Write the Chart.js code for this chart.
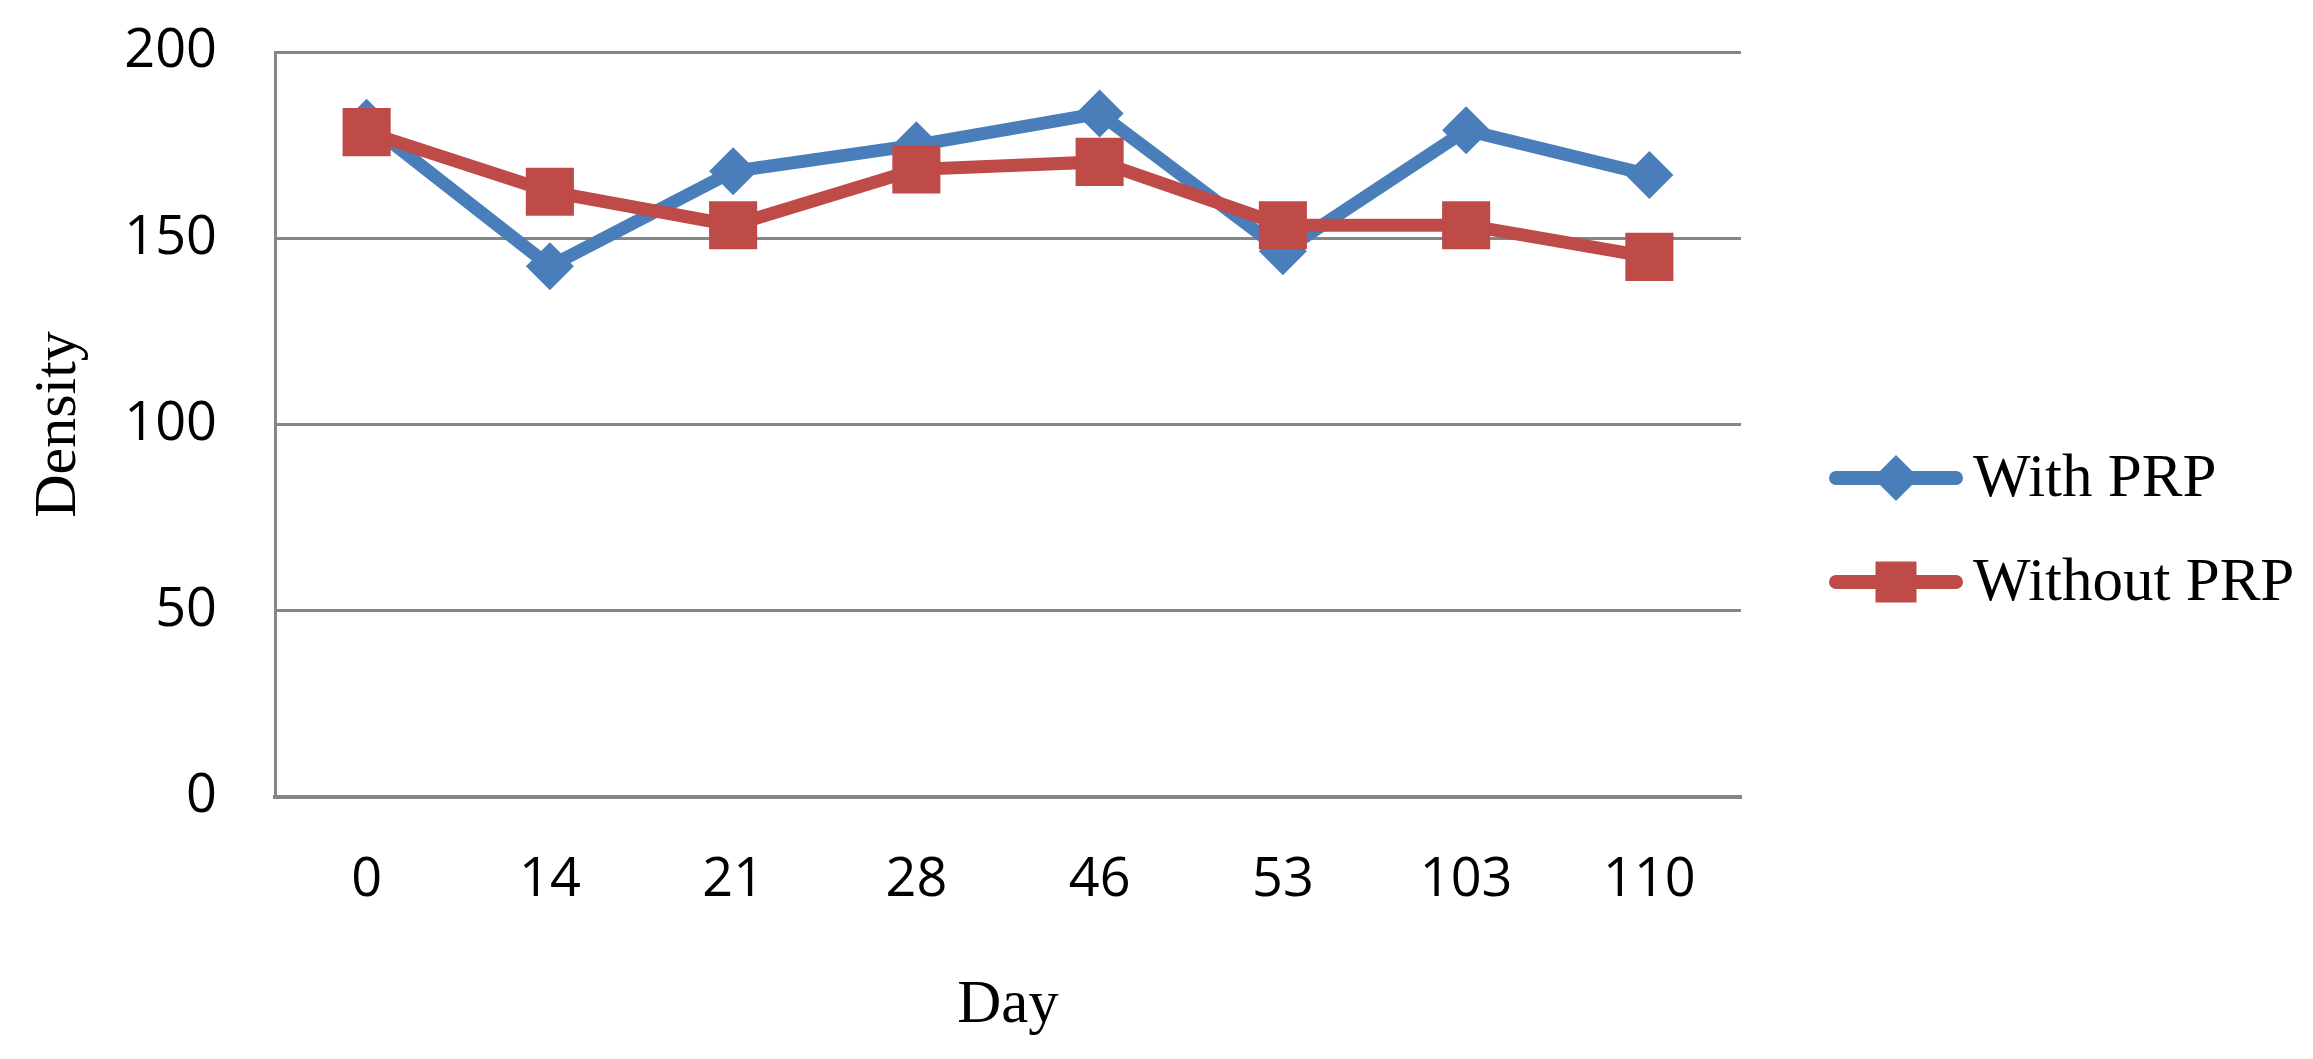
<!DOCTYPE html>
<html>
<head>
<meta charset="utf-8">
<script src="https://cdn.jsdelivr.net/npm/chart.js@4/dist/chart.umd.min.js"></script>
<style>
  html, body { margin: 0; padding: 0; background: #fff; }
  #wrap { width: 2313px; height: 1059px; }
</style>
</head>
<body>
<div id="wrap"><canvas id="chart1" width="2313" height="1059"></canvas></div>
<script>
// data
var days = ['0', '14', '21', '28', '46', '53', '103', '110'];
var withPRP = [181, 142.5, 168, 175, 183.5, 146.5, 179, 167];
var withoutPRP = [178.5, 162.5, 153.5, 168.5, 170.5, 153.5, 153.5, 145];
var yTicks = [0, 50, 100, 150, 200];

var blue = '#4A7EBB';
var red = '#BE4B48';
var gridGray = '#868686';
var tickFont = { family: '"Open Sans", sans-serif', size: 54 };
var titleFont = '"Liberation Serif", "Times New Roman", serif';

// legend: line with marker, then label, stacked on the right
var sideLegend = {
    id: 'sideLegend',
    afterDraw: function (chart) {
        var ctx = chart.ctx;
        var rows = [478, 582];
        chart.data.datasets.forEach(function (ds, i) {
            var y = rows[i];
            ctx.save();
            ctx.strokeStyle = ds.borderColor;
            ctx.fillStyle = ds.backgroundColor;
            ctx.lineWidth = 14;
            ctx.lineCap = 'round';
            ctx.beginPath();
            ctx.moveTo(1836, y);
            ctx.lineTo(1956, y);
            ctx.stroke();
            Chart.helpers.drawPoint(ctx, {
                pointStyle: ds.pointStyle,
                radius: ds.pointStyle === 'rect' ? 29 : 23,
                borderWidth: 0
            }, 1896, y);
            ctx.fillStyle = '#000';
            ctx.font = '61px ' + titleFont;
            ctx.textBaseline = 'middle';
            ctx.textAlign = 'left';
            ctx.fillText(ds.label, 1973, y + 2);
            ctx.restore();
        });
    }
};

var ctx1 = document.getElementById('chart1').getContext('2d');

var chart1 = new Chart(ctx1, {
    type: 'line',
    data: {
        labels: days,
        datasets: [{
            label: 'With PRP',
            data: withPRP,
            borderColor: blue,
            backgroundColor: blue,
            borderWidth: 13,
            pointStyle: 'rectRot',
            pointRadius: 24,
            pointHoverRadius: 24,
            pointBorderWidth: 0,
            tension: 0,
            order: 2
        }, {
            label: 'Without PRP',
            data: withoutPRP,
            borderColor: red,
            backgroundColor: red,
            borderWidth: 13,
            pointStyle: 'rect',
            pointRadius: 34,
            pointHoverRadius: 34,
            pointBorderWidth: 0,
            tension: 0,
            order: 1
        }]
    },
    options: {
        responsive: false,
        animation: false,
        layout: {
            padding: { top: 52, right: 572, bottom: 0, left: 0 }
        },
        plugins: {
            legend: { display: false },
            tooltip: { enabled: false }
        },
        scales: {
            x: {
                offset: true,
                afterFit: function (scale) {
                    scale.height = 262;
                    scale.paddingLeft = 0;
                    scale.paddingRight = 0;
                },
                grid: { display: false, drawTicks: false },
                border: { display: true, color: gridGray, width: 4 },
                ticks: { padding: 51, color: '#000', font: tickFont },
                title: {
                    display: true,
                    text: 'Day',
                    color: '#000',
                    font: { family: titleFont, size: 61 },
                    padding: { top: 60, bottom: 16 }
                }
            },
            y: {
                min: yTicks[0],
                max: yTicks[yTicks.length - 1],
                afterBuildTicks: function (scale) {
                    scale.ticks = yTicks.map(function (v) { return { value: v }; });
                },
                afterFit: function (scale) {
                    scale.width = 275;
                    scale.paddingTop = 0;
                    scale.paddingBottom = 0;
                },
                grid: { color: gridGray, lineWidth: 3, drawTicks: false },
                border: { display: true, color: gridGray, width: 3 },
                ticks: { padding: 58, color: '#000', font: tickFont },
                title: {
                    display: true,
                    text: 'Density',
                    color: '#000',
                    font: { family: titleFont, size: 60, lineHeight: 1 },
                    padding: { top: 29, bottom: 37 }
                }
            }
        }
    },
    plugins: [sideLegend]
});
</script>
</body>
</html>
